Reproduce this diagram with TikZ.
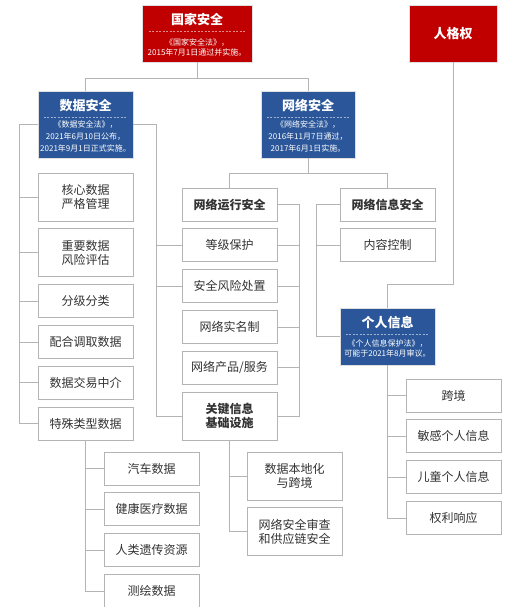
\documentclass[tikz,border=0pt]{standalone}
\usepackage{fontspec}
\setmainfont{Noto Sans CJK SC}
\usepackage{tikz}
\usetikzlibrary{positioning}
\definecolor{lawred}{HTML}{C00000}
\definecolor{lawblue}{HTML}{2B579A}
\definecolor{linegray}{HTML}{B4B4B4}
\definecolor{textgray}{HTML}{333333}

\begin{document}
\begin{tikzpicture}[
    x=1pt, y=-1pt,
    node distance=7pt,
    item/.style={rectangle, draw=linegray, fill=white, line width=0.8pt, minimum width=95pt, minimum height=33pt, align=center, text=textgray, font=\fontsize{12}{14.5}\selectfont, inner sep=1pt},
    tall/.style={item, minimum height=48pt},
    law/.style={rectangle, draw=white!75!gray, line width=0.6pt, minimum width=95pt, minimum height=67pt},
    redlaw/.style={law, fill=lawred},
    bluelaw/.style={law, fill=lawblue},
    head/.style={text=white, font=\fontsize{13}{15}\selectfont\bfseries, inner sep=0pt},
    note/.style={text=white, align=center, font=\fontsize{8}{12}\selectfont, inner sep=0pt},
    sep/.style={draw=white, opacity=0.55, dash pattern=on 2pt off 1.5pt, line width=0.5pt},
    link/.style={draw=linegray, line width=0.8pt}
]
    \useasboundingbox (0,0) rectangle (506,607);

    % laws
    \node[redlaw, minimum width=110pt, minimum height=57pt] (guojia) at (197,33.5) {};
    \node[head] (guojiaT) at ([yshift=-15pt]guojia.north) {国家安全};
    \draw[sep] ([xshift=7pt,yshift=-27pt]guojia.north west) -- ([xshift=-7pt,yshift=-27pt]guojia.north east);
    \node[note, font=\fontsize{8}{10}\selectfont] (guojiaN) at ([yshift=-42.5pt]guojia.north) {《国家安全法》，\\2015年7月1日通过并实施。};

    \node[redlaw, minimum width=88pt, minimum height=57pt] (renge) at (453,33.5) {};
    \node[head] (rengeT) at (renge.center) {人格权};

    \node[bluelaw] (shuju) at (85.5,124.5) {};
    \node[head] (shujuT) at ([yshift=-15pt]shuju.north) {数据安全};
    \draw[sep] ([xshift=6pt,yshift=-27pt]shuju.north west) -- ([xshift=-6pt,yshift=-27pt]shuju.north east);
    \node[note] (shujuN) at ([yshift=-46pt]shuju.north) {《数据安全法》，\\2021年6月10日公布，\\2021年9月1日正式实施。};

    \node[bluelaw, minimum width=94pt] (wangluo) at (308,124.5) {};
    \node[head] (wangluoT) at ([yshift=-15pt]wangluo.north) {网络安全};
    \draw[sep] ([xshift=6pt,yshift=-27pt]wangluo.north west) -- ([xshift=-6pt,yshift=-27pt]wangluo.north east);
    \node[note] (wangluoN) at ([yshift=-46pt]wangluo.north) {《网络安全法》，\\2016年11月7日通过，\\2017年6月1日实施。};

    \node[bluelaw, minimum height=57pt] (geren) at (387.5,336.5) {};
    \node[head] (gerenT) at ([yshift=-15pt]geren.north) {个人信息};
    \draw[sep] ([xshift=6pt,yshift=-27pt]geren.north west) -- ([xshift=-6pt,yshift=-27pt]geren.north east);
    \node[note, font=\fontsize{8}{10.5}\selectfont] (gerenN) at ([yshift=-40.5pt]geren.north) {《个人信息保护法》，\\可能于2021年8月审议。};

    % data column
    \node[tall] (hexin) at (85.5,197) {核心数据\\严格管理};
    \node[tall, below=of hexin] (zhongyao) {重要数据\\风险评估};
    \node[item, below=of zhongyao] (fenji) {分级分类};
    \node[item, below=of fenji] (peihe) {配合调取数据};
    \node[item, below=of peihe] (jiaoyi) {数据交易中介};
    \node[item, below=of jiaoyi] (teshu) {特殊类型数据};

    \node[item] (qiche) at (151.5,468.5) {汽车数据};
    \node[item, below=of qiche] (jiankang) {健康医疗数据};
    \node[item, below=of jiankang] (yichuan) {人类遗传资源};
    \node[item, below=of yichuan] (cehui) {测绘数据};

    % network column
    \node[item, font=\fontsize{12}{14.5}\selectfont\bfseries] (yunxing) at (229.5,204.5) {网络运行安全};
    \node[item, below=of yunxing] (dengji) {等级保护};
    \node[item, below=of dengji] (fengxian) {安全风险处置};
    \node[item, below=of fengxian] (shiming) {网络实名制};
    \node[item, below=of shiming] (chanpin) {网络产品/服务};
    \node[tall, below=of chanpin, font=\fontsize{12}{14.5}\selectfont\bfseries] (guanjian) {关键信息\\基础设施};

    \node[tall] (bendi) at (294.5,476) {数据本地化\\与跨境};
    \node[tall, below=of bendi] (shencha) {网络安全审查\\和供应链安全};

    \node[item, font=\fontsize{12}{14.5}\selectfont\bfseries] (xinxi) at (387.5,204.5) {网络信息安全};
    \node[item, below=of xinxi] (neirong) {内容控制};

    \node[item] (kuajing) at (453.5,395.5) {跨境};
    \node[item, below=of kuajing] (mingan) {敏感个人信息};
    \node[item, below=of mingan] (ertong) {儿童个人信息};
    \node[item, below=of ertong] (quanli) {权利响应};

    % links
    \draw[link] (guojia.south) -- ++(0,16) -| (shuju.north);
    \draw[link] (guojia.south) -- ++(0,16) -| (wangluo.north);
    \draw[link] (renge.south) -- ++(0,222) -| (geren.north);

    \foreach \n in {hexin,zhongyao,fenji,peihe,jiaoyi,teshu}
        \draw[link] (shuju.west) -- ++(-18,0) |- (\n.west);
    \foreach \n in {dengji,fengxian,guanjian}
        \draw[link] (shuju.east) -- ++(23,0) |- (\n.west);
    \foreach \n in {qiche,jiankang,yichuan,cehui}
        \draw[link] (teshu.south) |- (\n.west);

    \draw[link] (wangluo.south) -- ++(0,15.5) -| (yunxing.north);
    \draw[link] (wangluo.south) -- ++(0,15.5) -| (xinxi.north);
    \foreach \n in {dengji,fengxian,shiming,chanpin,guanjian}
        \draw[link] (yunxing.east) -- ++(22,0) |- (\n.east);
    \foreach \n in {bendi,shencha}
        \draw[link] (guanjian.south) |- (\n.west);

    \foreach \n in {neirong,geren}
        \draw[link] (xinxi.west) -- ++(-23,0) |- (\n.west);
    \foreach \n in {kuajing,mingan,ertong,quanli}
        \draw[link] (geren.south) |- (\n.west);
\end{tikzpicture}
\end{document}
